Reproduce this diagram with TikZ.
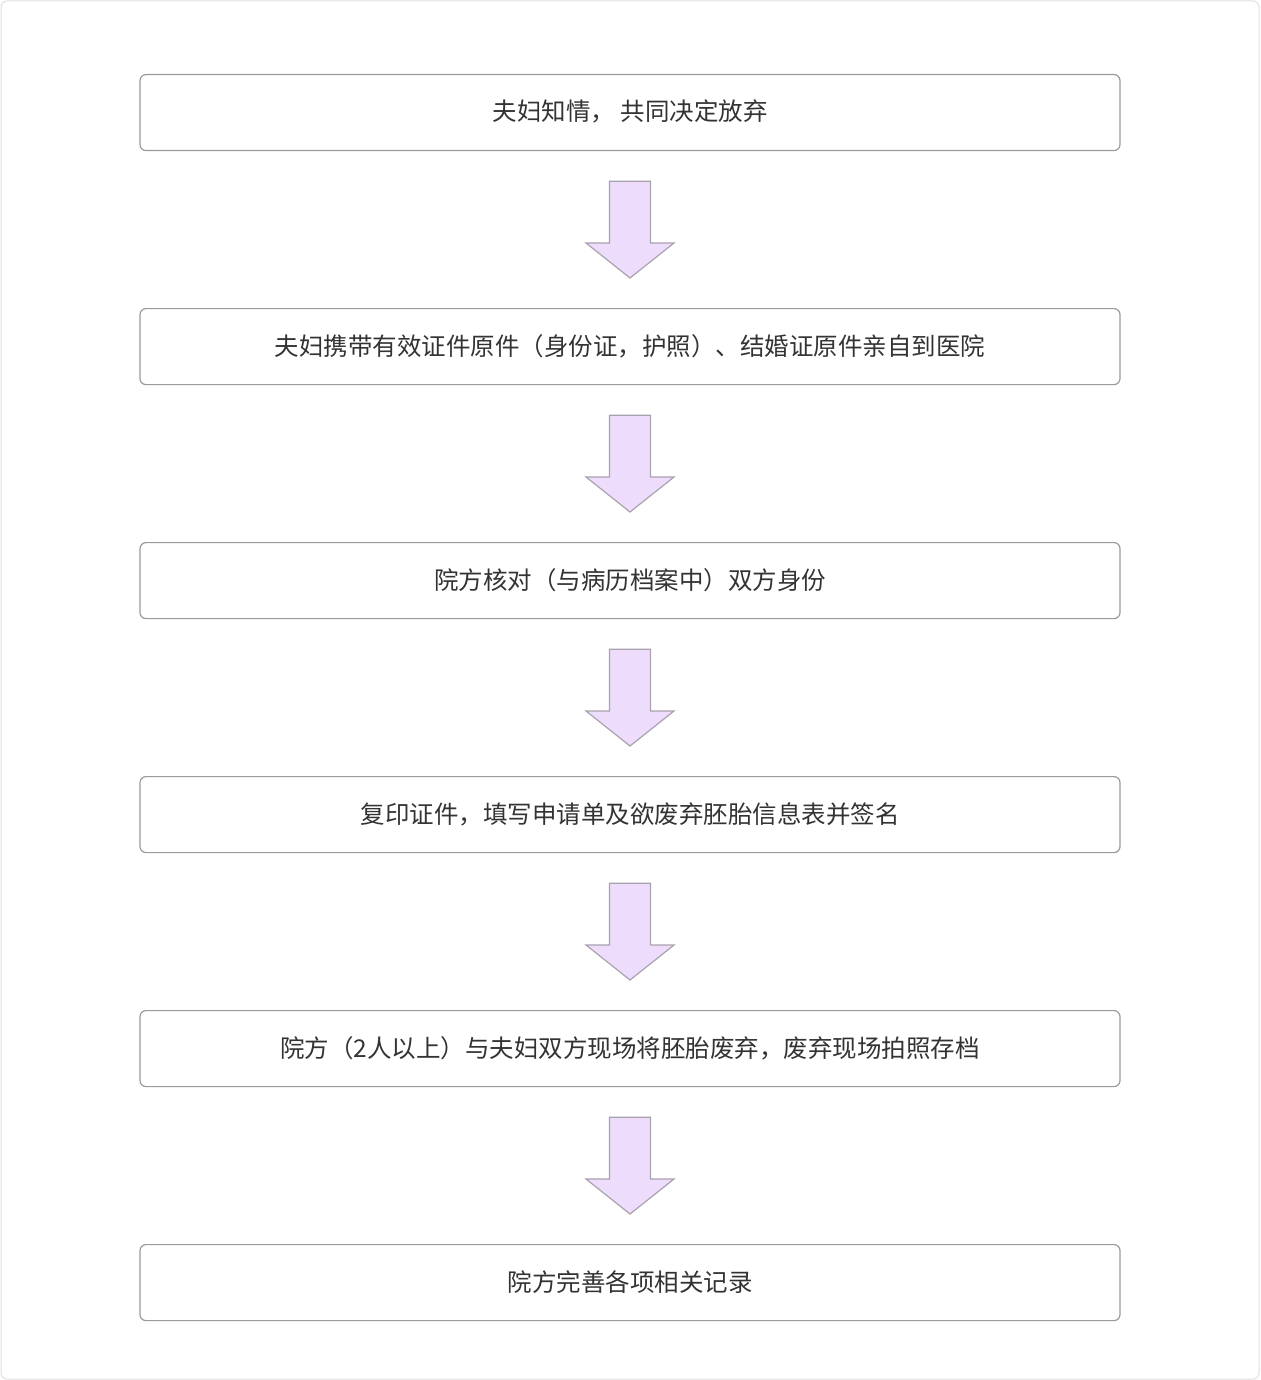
\documentclass[tikz,border=0pt]{standalone}
\usepackage{fontspec}
\newfontfamily\cjk{Noto Sans CJK SC}
\usetikzlibrary{calc}
\definecolor{txt}{HTML}{333333}
\definecolor{bord}{HTML}{9A9A9A}
\definecolor{afill}{HTML}{EEDCFC}
\definecolor{aline}{HTML}{A9A2AE}
\tikzset{
  stepbox/.style={draw=bord,line width=1.2pt,rounded corners=6pt,minimum width=980pt,minimum height=76pt,inner sep=0pt,font=\cjk\fontsize{24.5pt}{28pt}\selectfont,text=txt,anchor=north,text depth=4pt},
  bigarrow/.style={fill=afill,draw=aline,line width=1.2pt,line join=miter}
}
\begin{document}
\begin{tikzpicture}[x=1pt,y=-1pt]
\useasboundingbox (0,0) rectangle (1260,1380);
\draw[draw=black!12,line width=1pt,rounded corners=6pt] (1,1) rectangle (1259,1379);
\node[stepbox] (b1) at (630,74) {夫妇知情， 共同决定放弃};
\node[stepbox] (b2) at (630,308) {夫妇携带有效证件原件（身份证，护照）、结婚证原件亲自到医院};
\node[stepbox] (b3) at (630,542) {院方核对（与病历档案中）双方身份};
\node[stepbox] (b4) at (630,776) {复印证件，填写申请单及欲废弃胚胎信息表并签名};
\node[stepbox] (b5) at (630,1010) {院方（2人以上）与夫妇双方现场将胚胎废弃，废弃现场拍照存档};
\node[stepbox] (b6) at (630,1244) {院方完善各项相关记录};
\foreach \a/\b in {b1/b2,b2/b3,b3/b4,b4/b5,b5/b6}{
  \coordinate (t) at ($(\a.south)+(0,30)$);
  \coordinate (h) at ($(\b.north)+(0,-30)$);
  \draw[bigarrow] ($(t)+(-20.5,0)$) -- ($(t)+(20.5,0)$) -- ($(h)+(20.5,-35)$) -- ($(h)+(44,-35)$) -- (h) -- ($(h)+(-44,-35)$) -- ($(h)+(-20.5,-35)$) -- cycle;
}
\end{tikzpicture}
\end{document}
